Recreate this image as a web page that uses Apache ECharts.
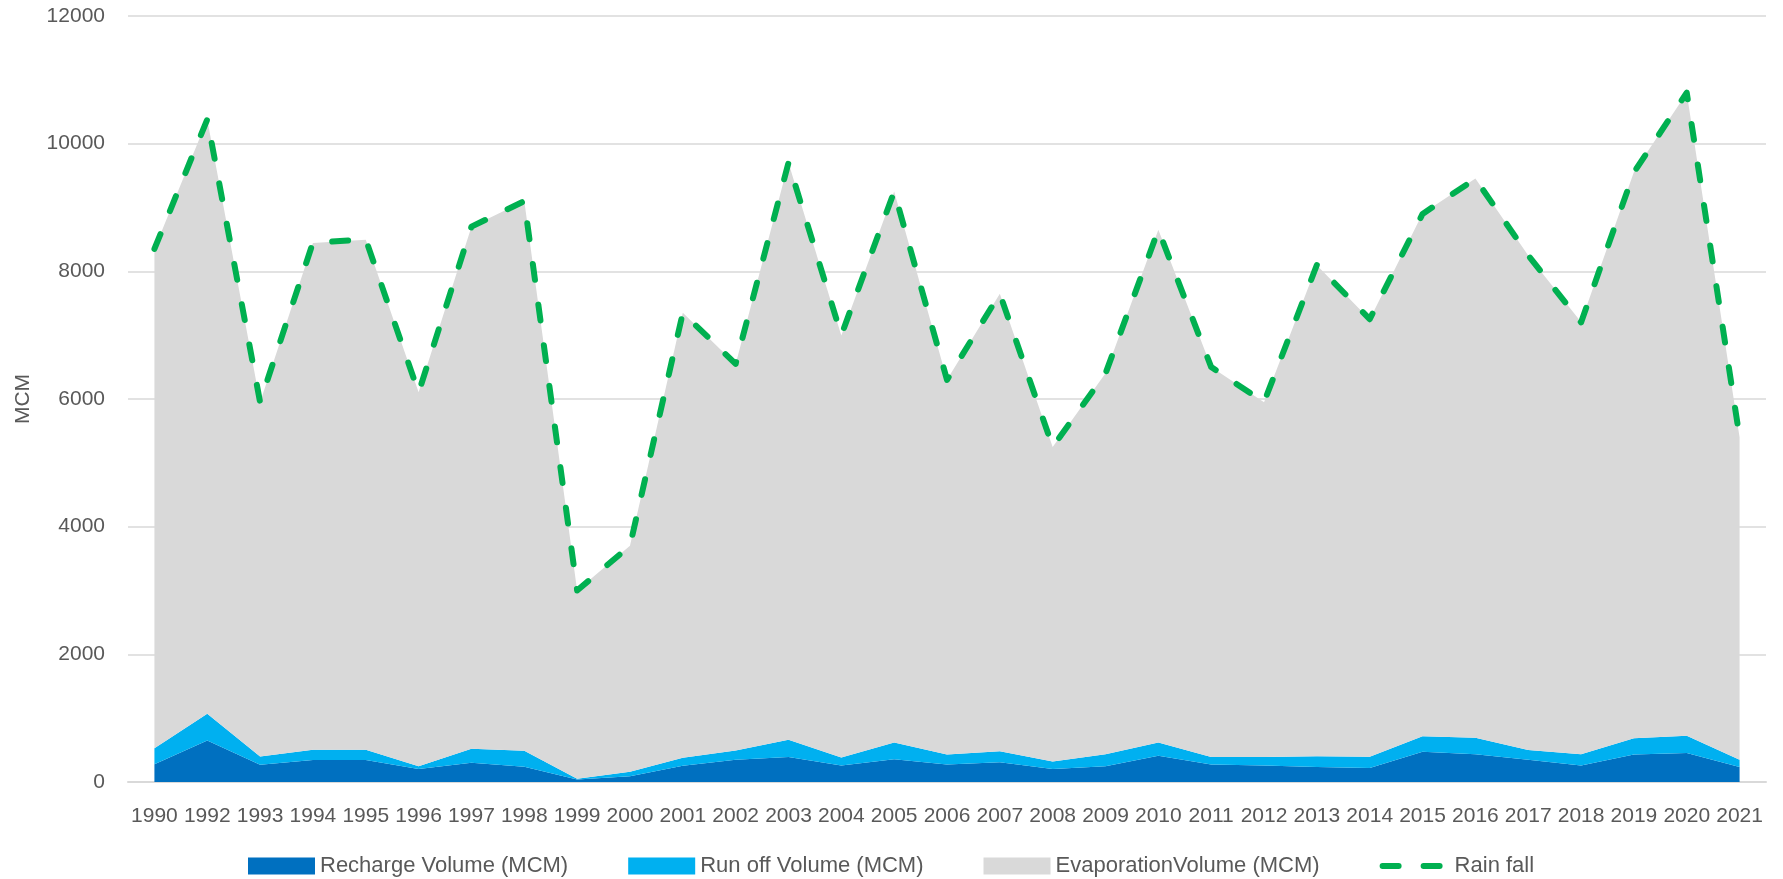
<!DOCTYPE html>
<html lang="en">
<head>
    <meta charset="UTF-8">
    <title>Water balance</title>
    <script type="text/javascript" src="https://cdn.jsdelivr.net/npm/echarts@6/dist/echarts.min.js"></script>
    <style>
        html, body { margin: 0; padding: 0; background: #fff; }
        #charts { width: 1783px; height: 879px; }
    </style>
</head>
<body>
<div id="charts"></div>
<script>
    // years on the x axis (1991 is not in the data)
    var years = ['1990', '1992', '1993', '1994', '1995', '1996', '1997', '1998', '1999', '2000',
        '2001', '2002', '2003', '2004', '2005', '2006', '2007', '2008', '2009', '2010',
        '2011', '2012', '2013', '2014', '2015', '2016', '2017', '2018', '2019', '2020', '2021']

    var recharge = [280, 650, 270, 345, 345, 205, 300, 240, 40, 90,
        255, 350, 390, 260, 355, 275, 310, 205, 245, 410,
        275, 260, 235, 220, 475, 435, 350, 260, 430, 455, 235]

    var runoff = [250, 420, 130, 160, 160, 40, 220, 250, 10, 70,
        125, 145, 270, 125, 265, 155, 170, 115, 190, 210,
        115, 130, 170, 175, 240, 260, 150, 175, 255, 270, 115]

    var evaporation = [7820, 9310, 5550, 7940, 7990, 5860, 8180, 8610, 2950, 3540,
        6970, 6050, 9040, 6610, 8630, 5870, 7170, 4930, 5970, 8030,
        6110, 5560, 7690, 6850, 8190, 8760, 7750, 6770, 8870, 10070, 5050]

    var rainfall = [8350, 10380, 5950, 8450, 8500, 6100, 8700, 9100, 3000, 3700,
        7350, 6550, 9700, 7000, 9250, 6300, 7650, 5250, 6400, 8650,
        6500, 5950, 8100, 7250, 8900, 9450, 8250, 7200, 9550, 10800, 5400]

    var yTicks = {min: 0, max: 12000, step: 2000}

    var txt = '#595959'
    var font = 'Liberation Sans'
    var rainDash = [16, 25]

    function area(name, data, color) {
        return {
            name: name,
            type: 'line',
            stack: 'water',
            data: data,
            symbol: 'none',
            lineStyle: {width: 0},
            itemStyle: {color: color},
            areaStyle: {color: color, opacity: 1}
        }
    }

    var chart = echarts.init(document.getElementById("charts"), null, {renderer: 'canvas'});
    chart.setOption({
        animation: false,
        textStyle: {fontFamily: font},
        grid: {left: 128, right: 17, top: 16, bottom: 97},
        legend: {
            left: 248,
            top: 855,
            padding: 0,
            itemWidth: 67,
            itemHeight: 17,
            itemGap: 60,
            textStyle: {color: txt, fontSize: 22, fontFamily: font},
            data: [
                {name: 'Recharge Volume (MCM)', icon: 'rect'},
                {name: 'Run off Volume (MCM)', icon: 'rect'},
                {name: 'EvaporationVolume (MCM)', icon: 'rect'},
                {
                    name: 'Rain fall',
                    itemStyle: {opacity: 0},
                    lineStyle: {width: 6, type: rainDash, cap: 'round', color: '#00B050'}
                }
            ]
        },
        xAxis: {
            type: 'category',
            data: years,
            boundaryGap: true,
            axisLine: {lineStyle: {color: '#D9D9D9', width: 2}},
            axisTick: {show: false},
            axisLabel: {color: txt, fontSize: 21, margin: 24, interval: 0}
        },
        yAxis: {
            type: 'value',
            min: yTicks.min,
            max: yTicks.max,
            interval: yTicks.step,
            name: 'MCM',
            nameLocation: 'middle',
            nameGap: 94,
            nameTextStyle: {color: txt, fontSize: 21},
            axisLine: {show: false},
            axisTick: {show: false},
            axisLabel: {
                color: txt, fontSize: 21, margin: 23,
                formatter: function (v) { return String(v) }
            },
            splitLine: {lineStyle: {color: '#D9D9D9', width: 1.5}}
        },
        series: [
            area('Recharge Volume (MCM)', recharge, '#0070C0'),
            area('Run off Volume (MCM)', runoff, '#00B0F0'),
            area('EvaporationVolume (MCM)', evaporation, '#D9D9D9'),
            {
                name: 'Rain fall',
                type: 'line',
                data: rainfall,
                symbol: 'none',
                itemStyle: {color: '#00B050'},
                lineStyle: {color: '#00B050', width: 6, type: rainDash, cap: 'round', join: 'round'},
                z: 5
            }
        ]
    });
</script>
</body>
</html>
